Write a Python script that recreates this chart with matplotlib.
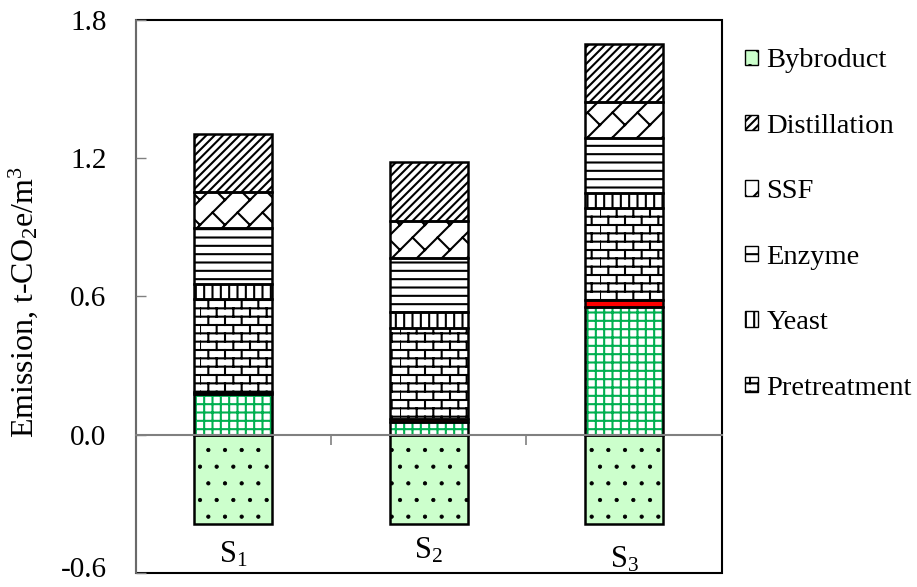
import numpy as np
import matplotlib
matplotlib.use("Agg")
import matplotlib.pyplot as plt
import matplotlib.hatch as mhatch
import matplotlib.transforms as mtransforms
from matplotlib.patches import Patch, Rectangle
import warnings

warnings.filterwarnings("ignore")

# brick hatch ('b'), like the Excel brick pattern
class BrickHatch(mhatch.HatchPatternBase):
    def __init__(self, hatch, density):
        self.num_rows = hatch.count('b') * density
        n = self.num_rows
        self.num_vertices = 0 if n == 0 else 2 * (n + 1) + n * (n // 2) * 2

    def set_vertices_and_codes(self, vertices, codes):
        n = self.num_rows
        h = 1.0 / n
        i = 0
        for k in range(n + 1):
            vertices[i:i + 2] = [(0, k * h), (1, k * h)]
            codes[i:i + 2] = [1, 2]
            i += 2
        for k in range(n):
            off = (k % 2) * h
            for j in range(n // 2):
                xx = off + j * 2 * h
                vertices[i:i + 2] = [(xx, k * h), (xx, (k + 1) * h)]
                codes[i:i + 2] = [1, 2]
                i += 2


# diagonal brick hatch ('d')
class DiagBrickHatch(mhatch.HatchPatternBase):
    def __init__(self, hatch, density):
        self.m = hatch.count('d') * 4
        self.q = 2
        m, q = self.m, self.q
        if m == 0:
            self.num_vertices = 0
            return
        self.segs = []
        for k in range(-m, m + 1):
            v = k / m
            self.segs.append(((0, v), (1, 1 + v)))
        for b in range(-m, m):
            v0, v1 = b / m, (b + 1) / m
            for j in range(0, 2 * q + 2):
                u = (j + (b % 2) * 0.5) / q
                self.segs.append((((u - v0) / 2, (u + v0) / 2), ((u - v1) / 2, (u + v1) / 2)))
        self.num_vertices = 2 * len(self.segs)

    def set_vertices_and_codes(self, vertices, codes):
        i = 0
        for a, b in self.segs:
            vertices[i:i + 2] = [a, b]
            codes[i:i + 2] = [1, 2]
            i += 2


mhatch._hatch_types.append(BrickHatch)
mhatch._hatch_types.append(DiagBrickHatch)

plt.rcParams['font.family'] = ['Liberation Serif', 'DejaVu Serif']
plt.rcParams['mathtext.fontset'] = 'custom'
plt.rcParams['mathtext.rm'] = 'Liberation Serif'
plt.rcParams['mathtext.it'] = 'Liberation Serif:italic'

scenarios = [r'$\mathrm{S}_1$', r'$\mathrm{S}_2$', r'$\mathrm{S}_3$']
feedstock = [0.178, 0.055, 0.552]
transport = [0.008, 0.011, 0.032]
pretreatment = [0.405, 0.399, 0.399]
yeast = [0.062, 0.068, 0.065]
enzyme = [0.243, 0.235, 0.239]
ssf = [0.156, 0.161, 0.156]
distillation = [0.254, 0.254, 0.254]
bybroduct = [-0.387, -0.387, -0.387]

# name, values, face, hatch, hatch colour, in legend
layers = [
    ('Feedstock', feedstock, 'white', '++', '#00b050', False),
    ('Transport', transport, '#ff0000', '', 'black', False),
    ('Pretreatment', pretreatment, 'white', 'bb', 'black', True),
    ('Yeast', yeast, 'white', '||', 'black', True),
    ('Enzyme', enzyme, 'white', '--', 'black', True),
    ('SSF', ssf, 'white', 'd', 'black', True),
    ('Distillation', distillation, 'white', '////', 'black', True),
]

fig = plt.figure(figsize=(9.17, 5.87), dpi=100)
ax = fig.add_axes([0.148, 0.024, 0.639, 0.942])

x = np.arange(len(scenarios)) + 0.5
w = 0.4

# negative by-product credit
plt.rcParams['hatch.linewidth'] = 0.6
ax.bar(x, bybroduct, w, color='#ccffcc', hatch='.', edgecolor='black', linewidth=0, zorder=2)
plt.rcParams['hatch.linewidth'] = 1.5
ax.bar(x, bybroduct, w, fill=False, edgecolor='black', linewidth=1.8, zorder=3)

bottom = np.zeros(len(scenarios))
for name, vals, face, hatch, hcol, _ in layers:
    vals = np.array(vals)
    ax.bar(x, vals, w, bottom=bottom, color=face, hatch=hatch, edgecolor=hcol,
           linewidth=0, zorder=2)
    ax.bar(x, vals, w, bottom=bottom, fill=False, edgecolor='black', linewidth=1.8, zorder=3)
    bottom += vals

ax.set_xlim(0, 3)
ax.set_ylim(-0.6, 1.8)
ax.set_yticks([-0.6, 0.0, 0.6, 1.2, 1.8])
ax.set_yticklabels(['-0.6', '0.0', '0.6', '1.2', '1.8'])
ax.tick_params(axis='y', direction='in', length=7, width=1, color='#808080',
               labelsize=21, pad=21)
ax.set_xticks([1, 2])
ax.set_xticklabels([])
ax.tick_params(axis='x', direction='out', length=7, width=1.2, color='#808080')

# nudge the lowest label up so it stays inside the figure
lab = ax.get_yticklabels()[0]
lab.set_transform(lab.get_transform() +
                  mtransforms.ScaledTranslation(0, 4 / 72, fig.dpi_scale_trans))

for s in ['top', 'right']:
    ax.spines[s].set_visible(False)
ax.spines['bottom'].set_position(('data', 0))
ax.spines['bottom'].set_color('#808080')
ax.spines['bottom'].set_linewidth(1.5)
ax.spines['bottom'].set_zorder(4)
ax.spines['left'].set_color('#808080')
ax.spines['left'].set_linewidth(1.2)

ax.add_patch(Rectangle((0, 0), 1, 1, transform=ax.transAxes, fill=False,
                       edgecolor='black', linewidth=1.5, zorder=1, clip_on=False))

label_y = [-0.52, -0.505, -0.545]
for xi, s, ly in zip(x, scenarios, label_y):
    ax.text(xi, ly, s, ha='center', va='center', fontsize=22)

ax.set_ylabel(r'Emission, t-$\mathrm{CO_2e/m^3}$', fontsize=23)
ax.yaxis.set_label_coords(-0.163, 0.49)

handles = [Patch(facecolor='#ccffcc', edgecolor='black', hatch='.', label='Bybroduct')]
for name, vals, face, hatch, hcol, show in reversed(layers):
    if show:
        handles.append(Patch(facecolor=face, edgecolor='black', hatch=hatch, label=name))
fig.legend(handles=handles, loc='upper left', bbox_to_anchor=(0.8, 0.937),
           frameon=False, fontsize=20.5, handlelength=0.45, handleheight=0.45,
           handletextpad=0.3, labelspacing=1.42, borderaxespad=0)

fig.savefig('out.png', dpi=100)
